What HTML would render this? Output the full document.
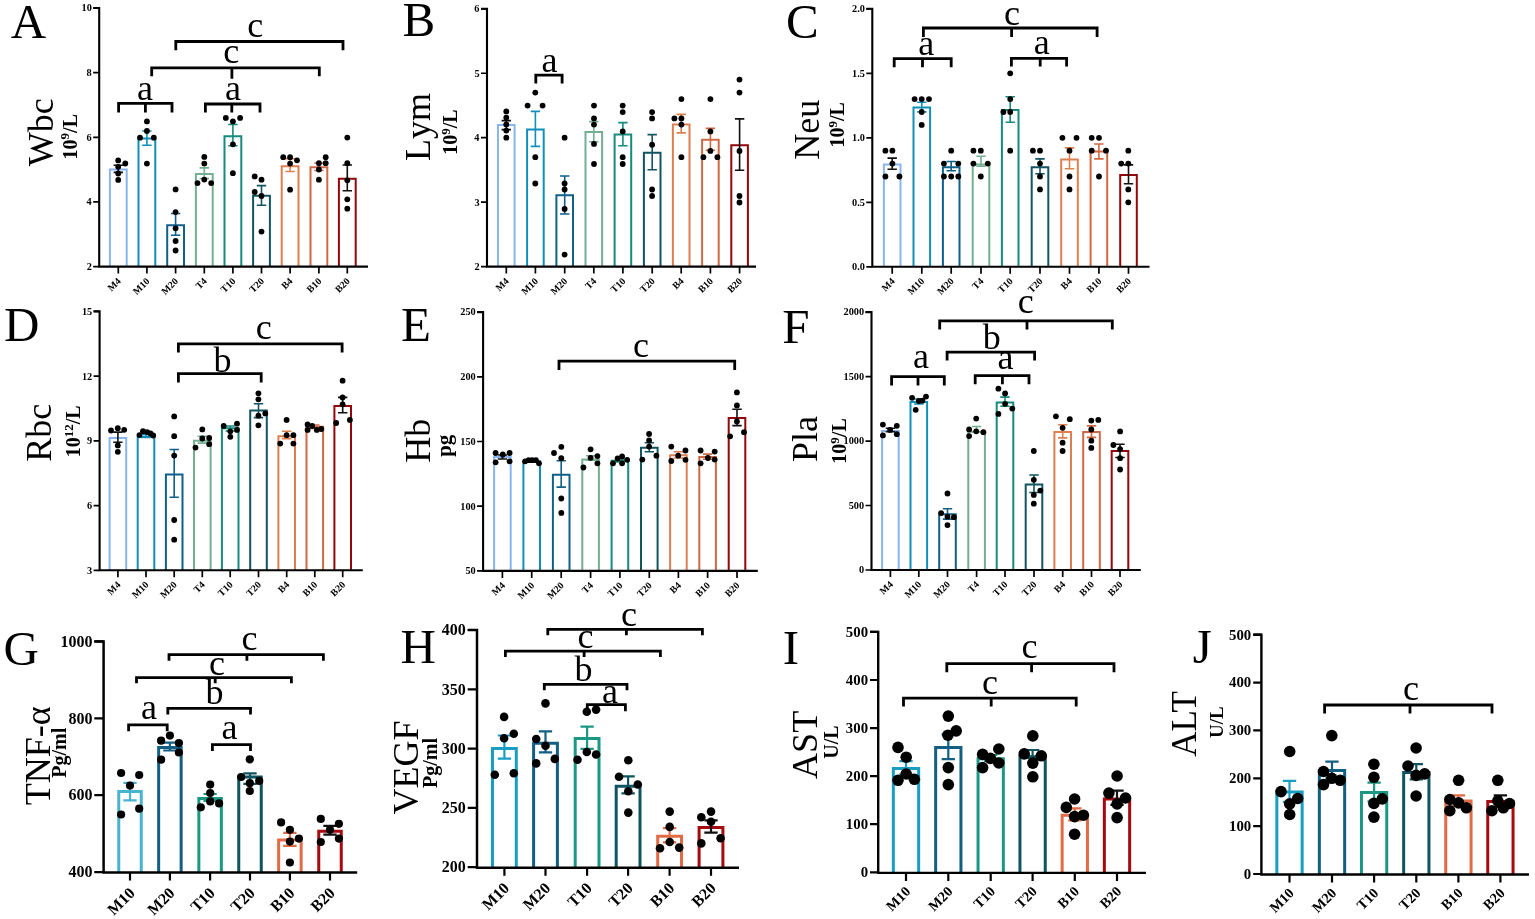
<!DOCTYPE html>
<html><head><meta charset="utf-8"><title>Figure</title>
<style>
html,body{margin:0;padding:0;background:#fff;width:1535px;height:919px;overflow:hidden}
svg{display:block;filter:blur(0.4px)}
text{font-family:"Liberation Serif","Times New Roman",serif;font-kerning:none;fill:#000}
</style></head><body>
<svg width="1535" height="919" viewBox="0 0 1535 919">
<rect width="1535" height="919" fill="#fff"/>
<path d="M109.9 266.6V169.6H126.7V266.6" fill="none" stroke="#88b5f0" stroke-width="2"/>
<path d="M118.3 165.2V172.4M113.6 165.2H123M113.6 172.4H123" stroke="#111" stroke-width="1.6" fill="none"/>
<circle cx="118.2" cy="160.4" r="2.9"/>
<circle cx="125.3" cy="163.5" r="2.9"/>
<circle cx="118.2" cy="166.8" r="2.9"/>
<circle cx="118.2" cy="173.5" r="2.9"/>
<circle cx="118.2" cy="179.9" r="2.9"/>
<path d="M138.5 266.6V138.5H155.3V266.6" fill="none" stroke="#1090b8" stroke-width="2"/>
<path d="M146.9 131V145.3M142.2 131H151.6M142.2 145.3H151.6" stroke="#1090b8" stroke-width="1.6" fill="none"/>
<circle cx="146.9" cy="121.4" r="2.9"/>
<circle cx="146.9" cy="131" r="2.9"/>
<circle cx="140" cy="137.7" r="2.9"/>
<circle cx="153.8" cy="137.7" r="2.9"/>
<circle cx="146.9" cy="163.6" r="2.9"/>
<path d="M167.2 266.6V225.3H184V266.6" fill="none" stroke="#10608a" stroke-width="2"/>
<path d="M175.6 213.5V235.2M170.9 213.5H180.3M170.9 235.2H180.3" stroke="#10608a" stroke-width="1.6" fill="none"/>
<circle cx="175.6" cy="189.4" r="2.9"/>
<circle cx="175.6" cy="212.1" r="2.9"/>
<circle cx="175.6" cy="228.3" r="2.9"/>
<circle cx="175.6" cy="241" r="2.9"/>
<circle cx="175.6" cy="250.5" r="2.9"/>
<path d="M195.9 266.6V174H212.7V266.6" fill="none" stroke="#74ae93" stroke-width="2"/>
<path d="M204.3 167.9V178.5M199.6 167.9H209M199.6 178.5H209" stroke="#74ae93" stroke-width="1.6" fill="none"/>
<circle cx="204.3" cy="156.9" r="2.9"/>
<circle cx="204.3" cy="163.6" r="2.9"/>
<circle cx="204.3" cy="179.6" r="2.9"/>
<circle cx="197.5" cy="183.1" r="2.9"/>
<circle cx="211.2" cy="183.1" r="2.9"/>
<path d="M224.5 266.6V136.2H241.3V266.6" fill="none" stroke="#178b7d" stroke-width="2"/>
<path d="M232.9 124.5V145.7M228.2 124.5H237.6M228.2 145.7H237.6" stroke="#178b7d" stroke-width="1.6" fill="none"/>
<circle cx="225.8" cy="117.9" r="2.9"/>
<circle cx="232.9" cy="121.4" r="2.9"/>
<circle cx="240.1" cy="117.9" r="2.9"/>
<circle cx="232.9" cy="144.3" r="2.9"/>
<circle cx="232.9" cy="173.2" r="2.9"/>
<path d="M253.1 266.6V195.7H269.9V266.6" fill="none" stroke="#115561" stroke-width="2"/>
<path d="M261.5 185.6V205.2M256.8 185.6H266.2M256.8 205.2H266.2" stroke="#115561" stroke-width="1.6" fill="none"/>
<circle cx="254.7" cy="176.4" r="2.9"/>
<circle cx="261.5" cy="179.7" r="2.9"/>
<circle cx="254.7" cy="192" r="2.9"/>
<circle cx="261.5" cy="196" r="2.9"/>
<circle cx="261.5" cy="231.6" r="2.9"/>
<path d="M281.7 266.6V166.2H298.5V266.6" fill="none" stroke="#de7f50" stroke-width="2"/>
<path d="M290.1 158.7V171.5M285.4 158.7H294.8M285.4 171.5H294.8" stroke="#de7f50" stroke-width="1.6" fill="none"/>
<circle cx="283.2" cy="157.2" r="2.9"/>
<circle cx="290.1" cy="157.2" r="2.9"/>
<circle cx="297" cy="160.3" r="2.9"/>
<circle cx="290.1" cy="163.6" r="2.9"/>
<circle cx="290.1" cy="189.7" r="2.9"/>
<path d="M310.5 266.6V167.2H327.3V266.6" fill="none" stroke="#d06943" stroke-width="2"/>
<path d="M318.9 163V170.5M314.2 163H323.6M314.2 170.5H323.6" stroke="#d06943" stroke-width="1.6" fill="none"/>
<circle cx="325.7" cy="157.2" r="2.9"/>
<circle cx="318.9" cy="163.2" r="2.9"/>
<circle cx="325.7" cy="163.2" r="2.9"/>
<circle cx="318.9" cy="169.5" r="2.9"/>
<circle cx="318.9" cy="179.7" r="2.9"/>
<path d="M338.9 266.6V178.7H355.7V266.6" fill="none" stroke="#930609" stroke-width="2"/>
<path d="M347.3 165V190.7M342.6 165H352M342.6 190.7H352" stroke="#111" stroke-width="1.6" fill="none"/>
<circle cx="347.3" cy="137.6" r="2.9"/>
<circle cx="347.3" cy="163.2" r="2.9"/>
<circle cx="347.3" cy="180.3" r="2.9"/>
<circle cx="347.3" cy="199.3" r="2.9"/>
<circle cx="347.3" cy="208.7" r="2.9"/>
<path d="M93.2 8H99.2V266.6H368" fill="none" stroke="#000" stroke-width="2.1"/>
<path d="M93.2 266.6H99.2M93.2 201.95H99.2M93.2 137.3H99.2M93.2 72.65H99.2M93.2 8H99.2M118.3 266.6V273.6M146.9 266.6V273.6M175.6 266.6V273.6M204.3 266.6V273.6M232.9 266.6V273.6M261.5 266.6V273.6M290.1 266.6V273.6M318.9 266.6V273.6M347.3 266.6V273.6" stroke="#000" stroke-width="1.7" fill="none"/>
<text x="86.69" y="270.01" font-size="10.3" font-weight="bold">2</text>
<text x="86.44" y="205.34" font-size="10.3" font-weight="bold">4</text>
<text x="86.55" y="140.66" font-size="10.3" font-weight="bold">6</text>
<text x="86.59" y="76.02" font-size="10.3" font-weight="bold">8</text>
<text x="81.49" y="11.37" font-size="10.3" font-weight="bold">10</text>
<text transform="translate(121.5,281.7) rotate(-45)" font-size="9.8" font-weight="bold" text-anchor="end">M4</text>
<text transform="translate(150.1,281.7) rotate(-45)" font-size="9.8" font-weight="bold" text-anchor="end">M10</text>
<text transform="translate(178.8,281.7) rotate(-45)" font-size="9.8" font-weight="bold" text-anchor="end">M20</text>
<text transform="translate(207.5,281.7) rotate(-45)" font-size="9.8" font-weight="bold" text-anchor="end">T4</text>
<text transform="translate(236.1,281.7) rotate(-45)" font-size="9.8" font-weight="bold" text-anchor="end">T10</text>
<text transform="translate(264.7,281.7) rotate(-45)" font-size="9.8" font-weight="bold" text-anchor="end">T20</text>
<text transform="translate(293.3,281.7) rotate(-45)" font-size="9.8" font-weight="bold" text-anchor="end">B4</text>
<text transform="translate(322.1,281.7) rotate(-45)" font-size="9.8" font-weight="bold" text-anchor="end">B10</text>
<text transform="translate(350.5,281.7) rotate(-45)" font-size="9.8" font-weight="bold" text-anchor="end">B20</text>
<path d="M118.6 112.6V103.3H172V112.6M145.4 103.3V112.6" fill="none" stroke="#000" stroke-width="2.8"/>
<text x="137.12" y="99.6" font-size="36">a</text>
<path d="M205.4 112.6V104H260V112.6M231.8 104V112.6" fill="none" stroke="#000" stroke-width="2.8"/>
<text x="225.12" y="99.8" font-size="36">a</text>
<path d="M151.7 76.2V67.8H319.3V76.2M231.9 67.8V78.8" fill="none" stroke="#000" stroke-width="2.8"/>
<text x="223.28" y="63.4" font-size="36">c</text>
<path d="M175.8 50.3V41.5H343V50.3" fill="none" stroke="#000" stroke-width="2.8"/>
<text x="247.18" y="37" font-size="36">c</text>
<text x="10.82" y="37.5" font-size="49">A</text>
<text transform="translate(53.3,166.34) rotate(-90)" font-size="36">Wbc</text>
<text transform="translate(76.6,159.38) rotate(-90)" font-size="20" font-weight="bold">10<tspan font-size="13" dy="-7.2">9</tspan><tspan dy="7.2">/L</tspan></text>
<path d="M498 266.6V125.1H514.6V266.6" fill="none" stroke="#88b5f0" stroke-width="2"/>
<path d="M506.3 120.6V129.6M501.6 120.6H511M501.6 129.6H511" stroke="#111" stroke-width="1.6" fill="none"/>
<circle cx="506.3" cy="111.4" r="2.9"/>
<circle cx="506.3" cy="117.6" r="2.9"/>
<circle cx="506.3" cy="124.4" r="2.9"/>
<circle cx="506.3" cy="130.6" r="2.9"/>
<circle cx="506.3" cy="137.7" r="2.9"/>
<path d="M527.1 266.6V129.4H543.7V266.6" fill="none" stroke="#1090b8" stroke-width="2"/>
<path d="M535.4 111.4V146.4M530.7 111.4H540.1M530.7 146.4H540.1" stroke="#1090b8" stroke-width="1.6" fill="none"/>
<circle cx="535.3" cy="92.6" r="2.9"/>
<circle cx="527.6" cy="105.6" r="2.9"/>
<circle cx="542.6" cy="105.6" r="2.9"/>
<circle cx="535.3" cy="157.2" r="2.9"/>
<circle cx="535.3" cy="183.5" r="2.9"/>
<path d="M556.4 266.6V195.3H573V266.6" fill="none" stroke="#10608a" stroke-width="2"/>
<path d="M564.7 176V214M560 176H569.4M560 214H569.4" stroke="#10608a" stroke-width="1.6" fill="none"/>
<circle cx="564.6" cy="137.7" r="2.9"/>
<circle cx="564.6" cy="183.5" r="2.9"/>
<circle cx="564.6" cy="189.5" r="2.9"/>
<circle cx="564.6" cy="209" r="2.9"/>
<circle cx="564.6" cy="254.6" r="2.9"/>
<path d="M585.5 266.6V132.1H602.1V266.6" fill="none" stroke="#74ae93" stroke-width="2"/>
<path d="M593.8 121.6V141.7M589.1 121.6H598.5M589.1 141.7H598.5" stroke="#74ae93" stroke-width="1.6" fill="none"/>
<circle cx="594" cy="105.6" r="2.9"/>
<circle cx="594" cy="118.4" r="2.9"/>
<circle cx="594" cy="124.6" r="2.9"/>
<circle cx="594" cy="143.9" r="2.9"/>
<circle cx="594" cy="164" r="2.9"/>
<path d="M614.6 266.6V134.6H631.2V266.6" fill="none" stroke="#178b7d" stroke-width="2"/>
<path d="M622.9 122.6V145.7M618.2 122.6H627.6M618.2 145.7H627.6" stroke="#178b7d" stroke-width="1.6" fill="none"/>
<circle cx="622.7" cy="105.6" r="2.9"/>
<circle cx="622.7" cy="112.1" r="2.9"/>
<circle cx="622.7" cy="131.4" r="2.9"/>
<circle cx="622.7" cy="157.2" r="2.9"/>
<circle cx="622.7" cy="164" r="2.9"/>
<path d="M643.9 266.6V152.7H660.5V266.6" fill="none" stroke="#115561" stroke-width="2"/>
<path d="M652.2 134.6V169.7M647.5 134.6H656.9M647.5 169.7H656.9" stroke="#115561" stroke-width="1.6" fill="none"/>
<circle cx="652.1" cy="112.1" r="2.9"/>
<circle cx="652.1" cy="118.4" r="2.9"/>
<circle cx="652.1" cy="144.7" r="2.9"/>
<circle cx="652.1" cy="189.5" r="2.9"/>
<circle cx="652.1" cy="196" r="2.9"/>
<path d="M672.9 266.6V124.4H689.5V266.6" fill="none" stroke="#de7f50" stroke-width="2"/>
<path d="M681.2 114.4V132.9M676.5 114.4H685.9M676.5 132.9H685.9" stroke="#de7f50" stroke-width="1.6" fill="none"/>
<circle cx="681.4" cy="99.1" r="2.9"/>
<circle cx="674.4" cy="118.4" r="2.9"/>
<circle cx="681.4" cy="118.4" r="2.9"/>
<circle cx="681.4" cy="124.6" r="2.9"/>
<circle cx="681.4" cy="157.2" r="2.9"/>
<path d="M702.1 266.6V139.7H718.7V266.6" fill="none" stroke="#d06943" stroke-width="2"/>
<path d="M710.4 128.4V150.2M705.7 128.4H715.1M705.7 150.2H715.1" stroke="#d06943" stroke-width="1.6" fill="none"/>
<circle cx="710.4" cy="99.1" r="2.9"/>
<circle cx="710.4" cy="131.4" r="2.9"/>
<circle cx="710.4" cy="150.9" r="2.9"/>
<circle cx="703.4" cy="157.2" r="2.9"/>
<circle cx="717.4" cy="157.2" r="2.9"/>
<path d="M731.3 266.6V145.2H747.9V266.6" fill="none" stroke="#930609" stroke-width="2"/>
<path d="M739.6 118.9V170.2M734.9 118.9H744.3M734.9 170.2H744.3" stroke="#111" stroke-width="1.6" fill="none"/>
<circle cx="739.5" cy="79.6" r="2.9"/>
<circle cx="739.5" cy="92.6" r="2.9"/>
<circle cx="739.5" cy="150.9" r="2.9"/>
<circle cx="739.5" cy="196" r="2.9"/>
<circle cx="739.5" cy="202.5" r="2.9"/>
<path d="M481 8.8H487V266.6H756" fill="none" stroke="#000" stroke-width="2.1"/>
<path d="M481 266.6H487M481 202.15H487M481 137.7H487M481 73.25H487M481 8.8H487M506.3 266.6V273.6M535.4 266.6V273.6M564.7 266.6V273.6M593.8 266.6V273.6M622.9 266.6V273.6M652.2 266.6V273.6M681.2 266.6V273.6M710.4 266.6V273.6M739.6 266.6V273.6" stroke="#000" stroke-width="1.7" fill="none"/>
<text x="474.49" y="270.01" font-size="10.3" font-weight="bold">2</text>
<text x="474.4" y="205.51" font-size="10.3" font-weight="bold">3</text>
<text x="474.24" y="141.09" font-size="10.3" font-weight="bold">4</text>
<text x="474.43" y="76.57" font-size="10.3" font-weight="bold">5</text>
<text x="474.35" y="12.16" font-size="10.3" font-weight="bold">6</text>
<text transform="translate(509.5,281.7) rotate(-45)" font-size="9.8" font-weight="bold" text-anchor="end">M4</text>
<text transform="translate(538.6,281.7) rotate(-45)" font-size="9.8" font-weight="bold" text-anchor="end">M10</text>
<text transform="translate(567.9,281.7) rotate(-45)" font-size="9.8" font-weight="bold" text-anchor="end">M20</text>
<text transform="translate(597,281.7) rotate(-45)" font-size="9.8" font-weight="bold" text-anchor="end">T4</text>
<text transform="translate(626.1,281.7) rotate(-45)" font-size="9.8" font-weight="bold" text-anchor="end">T10</text>
<text transform="translate(655.4,281.7) rotate(-45)" font-size="9.8" font-weight="bold" text-anchor="end">T20</text>
<text transform="translate(684.4,281.7) rotate(-45)" font-size="9.8" font-weight="bold" text-anchor="end">B4</text>
<text transform="translate(713.6,281.7) rotate(-45)" font-size="9.8" font-weight="bold" text-anchor="end">B10</text>
<text transform="translate(742.8,281.7) rotate(-45)" font-size="9.8" font-weight="bold" text-anchor="end">B20</text>
<path d="M535.8 83.5V75.1H562.1V83.5" fill="none" stroke="#000" stroke-width="2.8"/>
<text x="541.42" y="71.7" font-size="36">a</text>
<text x="402.59" y="36.1" font-size="49">B</text>
<text transform="translate(430.4,161.03) rotate(-90)" font-size="36">Lym</text>
<text transform="translate(457,154.78) rotate(-90)" font-size="20" font-weight="bold">10<tspan font-size="13" dy="-7.2">9</tspan><tspan dy="7.2">/L</tspan></text>
<path d="M883.9 266.8V164.6H900.5V266.8" fill="none" stroke="#88b5f0" stroke-width="2"/>
<path d="M892.2 158.1V169.3M887.5 158.1H896.9M887.5 169.3H896.9" stroke="#111" stroke-width="1.6" fill="none"/>
<circle cx="885.4" cy="150.7" r="2.9"/>
<circle cx="892.4" cy="150.7" r="2.9"/>
<circle cx="892.4" cy="163.6" r="2.9"/>
<circle cx="885.4" cy="176.5" r="2.9"/>
<circle cx="899.4" cy="176.5" r="2.9"/>
<path d="M913.5 266.8V107.4H930.1V266.8" fill="none" stroke="#1090b8" stroke-width="2"/>
<path d="M921.8 102.2V111.9M917.1 102.2H926.5M917.1 111.9H926.5" stroke="#1090b8" stroke-width="1.6" fill="none"/>
<circle cx="914.6" cy="99.1" r="2.9"/>
<circle cx="921.7" cy="99.1" r="2.9"/>
<circle cx="929" cy="99.1" r="2.9"/>
<circle cx="921.7" cy="112" r="2.9"/>
<circle cx="921.7" cy="124.9" r="2.9"/>
<path d="M942.9 266.8V167.3H959.5V266.8" fill="none" stroke="#10608a" stroke-width="2"/>
<path d="M951.2 161.5V170.7M946.5 161.5H955.9M946.5 170.7H955.9" stroke="#10608a" stroke-width="1.6" fill="none"/>
<circle cx="951.2" cy="150.7" r="2.9"/>
<circle cx="943.9" cy="163.6" r="2.9"/>
<circle cx="958.3" cy="163.6" r="2.9"/>
<circle cx="943.9" cy="176.5" r="2.9"/>
<circle cx="951.2" cy="176.5" r="2.9"/>
<circle cx="958.3" cy="176.5" r="2.9"/>
<path d="M972.7 266.8V164.6H989.3V266.8" fill="none" stroke="#74ae93" stroke-width="2"/>
<path d="M981 156.3V166.2M976.3 156.3H985.7M976.3 166.2H985.7" stroke="#74ae93" stroke-width="1.6" fill="none"/>
<circle cx="973.4" cy="150.7" r="2.9"/>
<circle cx="980.8" cy="150.7" r="2.9"/>
<circle cx="973.4" cy="163.6" r="2.9"/>
<circle cx="987.8" cy="163.6" r="2.9"/>
<circle cx="980.8" cy="176.5" r="2.9"/>
<path d="M1001.9 266.8V110H1018.5V266.8" fill="none" stroke="#178b7d" stroke-width="2"/>
<path d="M1010.2 96.7V122.3M1005.5 96.7H1014.9M1005.5 122.3H1014.9" stroke="#178b7d" stroke-width="1.6" fill="none"/>
<circle cx="1010.2" cy="73.3" r="2.9"/>
<circle cx="1010.2" cy="99.1" r="2.9"/>
<circle cx="1003.4" cy="112" r="2.9"/>
<circle cx="1010.2" cy="112" r="2.9"/>
<circle cx="1010.2" cy="150.7" r="2.9"/>
<path d="M1031.7 266.8V167.3H1048.3V266.8" fill="none" stroke="#115561" stroke-width="2"/>
<path d="M1040 158.9V173.8M1035.3 158.9H1044.7M1035.3 173.8H1044.7" stroke="#115561" stroke-width="1.6" fill="none"/>
<circle cx="1032.9" cy="150.7" r="2.9"/>
<circle cx="1040" cy="150.7" r="2.9"/>
<circle cx="1040" cy="163.6" r="2.9"/>
<circle cx="1040" cy="176.5" r="2.9"/>
<circle cx="1040" cy="189.4" r="2.9"/>
<path d="M1061.2 266.8V159.4H1077.8V266.8" fill="none" stroke="#de7f50" stroke-width="2"/>
<path d="M1069.5 147.9V168.8M1064.8 147.9H1074.2M1064.8 168.8H1074.2" stroke="#de7f50" stroke-width="1.6" fill="none"/>
<circle cx="1062.4" cy="137.8" r="2.9"/>
<circle cx="1076.5" cy="137.8" r="2.9"/>
<circle cx="1069.5" cy="150.7" r="2.9"/>
<circle cx="1069.5" cy="176.5" r="2.9"/>
<circle cx="1069.5" cy="189.4" r="2.9"/>
<path d="M1090.6 266.8V151.6H1107.2V266.8" fill="none" stroke="#d06943" stroke-width="2"/>
<path d="M1098.9 144V158.9M1094.2 144H1103.6M1094.2 158.9H1103.6" stroke="#d06943" stroke-width="1.6" fill="none"/>
<circle cx="1091.7" cy="137.8" r="2.9"/>
<circle cx="1099" cy="137.8" r="2.9"/>
<circle cx="1091.7" cy="150.7" r="2.9"/>
<circle cx="1106" cy="150.7" r="2.9"/>
<circle cx="1099" cy="176.5" r="2.9"/>
<path d="M1120.2 266.8V175.1H1136.8V266.8" fill="none" stroke="#930609" stroke-width="2"/>
<path d="M1128.5 164.9V183.7M1123.8 164.9H1133.2M1123.8 183.7H1133.2" stroke="#111" stroke-width="1.6" fill="none"/>
<circle cx="1128.3" cy="150.7" r="2.9"/>
<circle cx="1121.2" cy="163.6" r="2.9"/>
<circle cx="1128.3" cy="163.6" r="2.9"/>
<circle cx="1128.3" cy="189.4" r="2.9"/>
<circle cx="1128.3" cy="202.3" r="2.9"/>
<path d="M866.3 8.8H872.3V266.8H1149.5" fill="none" stroke="#000" stroke-width="2.1"/>
<path d="M866.3 266.8H872.3M866.3 202.3H872.3M866.3 137.8H872.3M866.3 73.3H872.3M866.3 8.8H872.3M892.2 266.8V273.8M921.8 266.8V273.8M951.2 266.8V273.8M981 266.8V273.8M1010.2 266.8V273.8M1040 266.8V273.8M1069.5 266.8V273.8M1098.9 266.8V273.8M1128.5 266.8V273.8" stroke="#000" stroke-width="1.7" fill="none"/>
<text x="852.02" y="270.15" font-size="10.3" font-weight="bold">0.0</text>
<text x="852" y="205.65" font-size="10.3" font-weight="bold">0.5</text>
<text x="852.02" y="141.15" font-size="10.3" font-weight="bold">1.0</text>
<text x="852" y="76.63" font-size="10.3" font-weight="bold">1.5</text>
<text x="852.02" y="12.15" font-size="10.3" font-weight="bold">2.0</text>
<text transform="translate(895.4,281.9) rotate(-45)" font-size="9.8" font-weight="bold" text-anchor="end">M4</text>
<text transform="translate(925,281.9) rotate(-45)" font-size="9.8" font-weight="bold" text-anchor="end">M10</text>
<text transform="translate(954.4,281.9) rotate(-45)" font-size="9.8" font-weight="bold" text-anchor="end">M20</text>
<text transform="translate(984.2,281.9) rotate(-45)" font-size="9.8" font-weight="bold" text-anchor="end">T4</text>
<text transform="translate(1013.4,281.9) rotate(-45)" font-size="9.8" font-weight="bold" text-anchor="end">T10</text>
<text transform="translate(1043.2,281.9) rotate(-45)" font-size="9.8" font-weight="bold" text-anchor="end">T20</text>
<text transform="translate(1072.7,281.9) rotate(-45)" font-size="9.8" font-weight="bold" text-anchor="end">B4</text>
<text transform="translate(1102.1,281.9) rotate(-45)" font-size="9.8" font-weight="bold" text-anchor="end">B10</text>
<text transform="translate(1131.7,281.9) rotate(-45)" font-size="9.8" font-weight="bold" text-anchor="end">B20</text>
<path d="M894.2 67.2V58.6H951.2V67.2M922.5 58.6V67.2" fill="none" stroke="#000" stroke-width="2.8"/>
<text x="918.22" y="55" font-size="36">a</text>
<path d="M923.4 37V28H1097.1V37M1011.6 28V37" fill="none" stroke="#000" stroke-width="2.8"/>
<text x="1004.08" y="25" font-size="36">c</text>
<path d="M1011.4 66.5V58.3H1066.6V66.5M1040.2 58.3V66.5" fill="none" stroke="#000" stroke-width="2.8"/>
<text x="1033.82" y="54.3" font-size="36">a</text>
<text x="785.89" y="37.9" font-size="49">C</text>
<text transform="translate(819.2,159.7) rotate(-90)" font-size="36">Neu</text>
<text transform="translate(844.2,147.48) rotate(-90)" font-size="20" font-weight="bold">10<tspan font-size="13" dy="-7.2">9</tspan><tspan dy="7.2">/L</tspan></text>
<path d="M109.6 570.3V438H126.2V570.3" fill="none" stroke="#88b5f0" stroke-width="2"/>
<path d="M117.9 432.1V442.2M113.2 432.1H122.6M113.2 442.2H122.6" stroke="#111" stroke-width="1.6" fill="none"/>
<circle cx="111" cy="430.5" r="2.9"/>
<circle cx="117.8" cy="428.2" r="2.9"/>
<circle cx="124.2" cy="429.8" r="2.9"/>
<circle cx="117.8" cy="445.4" r="2.9"/>
<circle cx="117.8" cy="451.8" r="2.9"/>
<path d="M137.7 570.3V436.7H154.3V570.3" fill="none" stroke="#1090b8" stroke-width="2"/>
<path d="M146 434.5V437.5M141.3 434.5H150.7M141.3 437.5H150.7" stroke="#1090b8" stroke-width="1.6" fill="none"/>
<circle cx="139.5" cy="435.1" r="2.9"/>
<circle cx="143" cy="431.2" r="2.9"/>
<circle cx="147.1" cy="432.1" r="2.9"/>
<circle cx="150.5" cy="433.5" r="2.9"/>
<circle cx="153.2" cy="435.5" r="2.9"/>
<path d="M165.9 570.3V474.4H182.5V570.3" fill="none" stroke="#10608a" stroke-width="2"/>
<path d="M174.2 449.5V497.2M169.5 449.5H178.9M169.5 497.2H178.9" stroke="#10608a" stroke-width="1.6" fill="none"/>
<circle cx="174.2" cy="416.4" r="2.9"/>
<circle cx="174.2" cy="436.2" r="2.9"/>
<circle cx="174.2" cy="455.6" r="2.9"/>
<circle cx="174.2" cy="520" r="2.9"/>
<circle cx="174.2" cy="539.7" r="2.9"/>
<path d="M194 570.3V440.8H210.6V570.3" fill="none" stroke="#74ae93" stroke-width="2"/>
<path d="M202.3 436.2V443.1M197.6 436.2H207M197.6 443.1H207" stroke="#74ae93" stroke-width="1.6" fill="none"/>
<circle cx="202.3" cy="429.4" r="2.9"/>
<circle cx="195.5" cy="447.6" r="2.9"/>
<circle cx="202.3" cy="438.5" r="2.9"/>
<circle cx="209.2" cy="438" r="2.9"/>
<circle cx="209.2" cy="444.2" r="2.9"/>
<path d="M221.9 570.3V428.3H238.5V570.3" fill="none" stroke="#178b7d" stroke-width="2"/>
<path d="M230.2 426V431M225.5 426H234.9M225.5 431H234.9" stroke="#178b7d" stroke-width="1.6" fill="none"/>
<circle cx="223.7" cy="426" r="2.9"/>
<circle cx="230.3" cy="431.3" r="2.9"/>
<circle cx="237" cy="423.7" r="2.9"/>
<circle cx="237" cy="429.9" r="2.9"/>
<circle cx="230.3" cy="436.8" r="2.9"/>
<path d="M250.2 570.3V410.5H266.8V570.3" fill="none" stroke="#115561" stroke-width="2"/>
<path d="M258.5 403.8V417.6M253.8 403.8H263.2M253.8 417.6H263.2" stroke="#115561" stroke-width="1.6" fill="none"/>
<circle cx="258.4" cy="393.3" r="2.9"/>
<circle cx="258.4" cy="399.3" r="2.9"/>
<circle cx="258.4" cy="415.7" r="2.9"/>
<circle cx="265.3" cy="413.4" r="2.9"/>
<circle cx="258.4" cy="425.3" r="2.9"/>
<path d="M278.4 570.3V436.3H295V570.3" fill="none" stroke="#de7f50" stroke-width="2"/>
<path d="M286.7 431.3V438.6M282 431.3H291.4M282 438.6H291.4" stroke="#de7f50" stroke-width="1.6" fill="none"/>
<circle cx="286.6" cy="419.9" r="2.9"/>
<circle cx="286.6" cy="435.2" r="2.9"/>
<circle cx="293.4" cy="435.2" r="2.9"/>
<circle cx="280.2" cy="443.6" r="2.9"/>
<circle cx="293.4" cy="443.6" r="2.9"/>
<path d="M306.5 570.3V426.7H323.1V570.3" fill="none" stroke="#d06943" stroke-width="2"/>
<path d="M314.8 425V428.5M310.1 425H319.5M310.1 428.5H319.5" stroke="#d06943" stroke-width="1.6" fill="none"/>
<circle cx="307.6" cy="424.4" r="2.9"/>
<circle cx="312.2" cy="426" r="2.9"/>
<circle cx="307.6" cy="429.9" r="2.9"/>
<circle cx="316.8" cy="429.9" r="2.9"/>
<circle cx="321.3" cy="429" r="2.9"/>
<path d="M334.4 570.3V405.9H351V570.3" fill="none" stroke="#930609" stroke-width="2"/>
<path d="M342.7 397.4V412.8M338 397.4H347.4M338 412.8H347.4" stroke="#111" stroke-width="1.6" fill="none"/>
<circle cx="342.6" cy="380.7" r="2.9"/>
<circle cx="342.6" cy="397.4" r="2.9"/>
<circle cx="342.6" cy="404.3" r="2.9"/>
<circle cx="336.2" cy="423" r="2.9"/>
<circle cx="349.9" cy="419.9" r="2.9"/>
<path d="M93.6 311.4H99.6V570.3H362.8" fill="none" stroke="#000" stroke-width="2.1"/>
<path d="M93.6 570.3H99.6M93.6 505.57H99.6M93.6 440.85H99.6M93.6 376.12H99.6M93.6 311.4H99.6M117.9 570.3V577.3M146 570.3V577.3M174.2 570.3V577.3M202.3 570.3V577.3M230.2 570.3V577.3M258.5 570.3V577.3M286.7 570.3V577.3M314.8 570.3V577.3M342.7 570.3V577.3" stroke="#000" stroke-width="1.7" fill="none"/>
<text x="87" y="573.66" font-size="10.3" font-weight="bold">3</text>
<text x="86.95" y="508.93" font-size="10.3" font-weight="bold">6</text>
<text x="87.02" y="444.21" font-size="10.3" font-weight="bold">9</text>
<text x="81.94" y="379.53" font-size="10.3" font-weight="bold">12</text>
<text x="81.88" y="314.75" font-size="10.3" font-weight="bold">15</text>
<text transform="translate(121.1,585.4) rotate(-45)" font-size="9.8" font-weight="bold" text-anchor="end">M4</text>
<text transform="translate(149.2,585.4) rotate(-45)" font-size="9.8" font-weight="bold" text-anchor="end">M10</text>
<text transform="translate(177.4,585.4) rotate(-45)" font-size="9.8" font-weight="bold" text-anchor="end">M20</text>
<text transform="translate(205.5,585.4) rotate(-45)" font-size="9.8" font-weight="bold" text-anchor="end">T4</text>
<text transform="translate(233.4,585.4) rotate(-45)" font-size="9.8" font-weight="bold" text-anchor="end">T10</text>
<text transform="translate(261.7,585.4) rotate(-45)" font-size="9.8" font-weight="bold" text-anchor="end">T20</text>
<text transform="translate(289.9,585.4) rotate(-45)" font-size="9.8" font-weight="bold" text-anchor="end">B4</text>
<text transform="translate(318,585.4) rotate(-45)" font-size="9.8" font-weight="bold" text-anchor="end">B10</text>
<text transform="translate(345.9,585.4) rotate(-45)" font-size="9.8" font-weight="bold" text-anchor="end">B20</text>
<path d="M178.4 352.5V343.9H342.1V352.5" fill="none" stroke="#000" stroke-width="2.8"/>
<text x="255.68" y="339.2" font-size="36">c</text>
<path d="M178.4 382.4V373.7H261.2V382.4" fill="none" stroke="#000" stroke-width="2.8"/>
<text x="213.59" y="372.1" font-size="36">b</text>
<text x="3.89" y="340.5" font-size="49">D</text>
<text transform="translate(51,461.66) rotate(-90)" font-size="36">Rbc</text>
<text transform="translate(79.9,457.33) rotate(-90)" font-size="20" font-weight="bold">10<tspan font-size="13" dy="-7.2">12</tspan><tspan dy="7.2">/L</tspan></text>
<path d="M494.1 570.9V457.1H510.7V570.9" fill="none" stroke="#88b5f0" stroke-width="2"/>
<path d="M502.4 455V459M497.7 455H507.1M497.7 459H507.1" stroke="#111" stroke-width="1.6" fill="none"/>
<circle cx="495.6" cy="453" r="2.9"/>
<circle cx="502.8" cy="454.5" r="2.9"/>
<circle cx="509.6" cy="453" r="2.9"/>
<circle cx="495.6" cy="462.3" r="2.9"/>
<circle cx="509.6" cy="461.3" r="2.9"/>
<path d="M523.4 570.9V461.3H540V570.9" fill="none" stroke="#1090b8" stroke-width="2"/>
<path d="M531.7 460V462M527 460H536.4M527 462H536.4" stroke="#1090b8" stroke-width="1.6" fill="none"/>
<circle cx="525.1" cy="461.3" r="2.9"/>
<circle cx="528.6" cy="460.2" r="2.9"/>
<circle cx="532.1" cy="460.2" r="2.9"/>
<circle cx="535.9" cy="460.2" r="2.9"/>
<circle cx="539" cy="463.3" r="2.9"/>
<path d="M552.9 570.9V474.7H569.5V570.9" fill="none" stroke="#10608a" stroke-width="2"/>
<path d="M561.2 460.7V487.1M556.5 460.7H565.9M556.5 487.1H565.9" stroke="#10608a" stroke-width="1.6" fill="none"/>
<circle cx="561.3" cy="446.8" r="2.9"/>
<circle cx="554" cy="453" r="2.9"/>
<circle cx="561.3" cy="458.2" r="2.9"/>
<circle cx="561.3" cy="498.5" r="2.9"/>
<circle cx="561.3" cy="512.9" r="2.9"/>
<path d="M582.3 570.9V459.6H598.9V570.9" fill="none" stroke="#74ae93" stroke-width="2"/>
<path d="M590.6 455.7V460.2M585.9 455.7H595.3M585.9 460.2H595.3" stroke="#74ae93" stroke-width="1.6" fill="none"/>
<circle cx="590.6" cy="449.3" r="2.9"/>
<circle cx="590.6" cy="457.8" r="2.9"/>
<circle cx="597.4" cy="456.1" r="2.9"/>
<circle cx="597.4" cy="463.3" r="2.9"/>
<circle cx="583.4" cy="467.5" r="2.9"/>
<path d="M611.6 570.9V460.8H628.2V570.9" fill="none" stroke="#178b7d" stroke-width="2"/>
<path d="M619.9 459V462M615.2 459H624.6M615.2 462H624.6" stroke="#178b7d" stroke-width="1.6" fill="none"/>
<circle cx="613" cy="463.3" r="2.9"/>
<circle cx="617.6" cy="458.5" r="2.9"/>
<circle cx="622.1" cy="456.4" r="2.9"/>
<circle cx="622.1" cy="463.3" r="2.9"/>
<circle cx="627.2" cy="459.8" r="2.9"/>
<path d="M641 570.9V447.7H657.6V570.9" fill="none" stroke="#115561" stroke-width="2"/>
<path d="M649.3 442.7V451.8M644.6 442.7H654M644.6 451.8H654" stroke="#115561" stroke-width="1.6" fill="none"/>
<circle cx="649.1" cy="434" r="2.9"/>
<circle cx="649.1" cy="440.4" r="2.9"/>
<circle cx="649.1" cy="446.6" r="2.9"/>
<circle cx="642.3" cy="459.6" r="2.9"/>
<circle cx="656.4" cy="455.7" r="2.9"/>
<path d="M670.1 570.9V455.3H686.7V570.9" fill="none" stroke="#de7f50" stroke-width="2"/>
<path d="M678.4 451.8V458M673.7 451.8H683.1M673.7 458H683.1" stroke="#de7f50" stroke-width="1.6" fill="none"/>
<circle cx="671.3" cy="446.6" r="2.9"/>
<circle cx="685.5" cy="450.5" r="2.9"/>
<circle cx="678.2" cy="455.7" r="2.9"/>
<circle cx="671.3" cy="461" r="2.9"/>
<circle cx="685.5" cy="459.8" r="2.9"/>
<path d="M699.3 570.9V456.9H715.9V570.9" fill="none" stroke="#d06943" stroke-width="2"/>
<path d="M707.6 454.1V459.2M702.9 454.1H712.3M702.9 459.2H712.3" stroke="#d06943" stroke-width="1.6" fill="none"/>
<circle cx="700.6" cy="450.5" r="2.9"/>
<circle cx="714.7" cy="451.6" r="2.9"/>
<circle cx="707.9" cy="458" r="2.9"/>
<circle cx="700.6" cy="463.3" r="2.9"/>
<circle cx="714.7" cy="459.6" r="2.9"/>
<path d="M728.7 570.9V418H745.3V570.9" fill="none" stroke="#930609" stroke-width="2"/>
<path d="M737 409.3V425.6M732.3 409.3H741.7M732.3 425.6H741.7" stroke="#111" stroke-width="1.6" fill="none"/>
<circle cx="736.9" cy="392.4" r="2.9"/>
<circle cx="736.9" cy="405.4" r="2.9"/>
<circle cx="736.9" cy="421.4" r="2.9"/>
<circle cx="730.1" cy="436.3" r="2.9"/>
<circle cx="744" cy="432.2" r="2.9"/>
<path d="M477.1 312.1H483.1V570.9H757.8" fill="none" stroke="#000" stroke-width="2.1"/>
<path d="M477.1 570.9H483.1M477.1 506.2H483.1M477.1 441.5H483.1M477.1 376.8H483.1M477.1 312.1H483.1M502.4 570.9V577.9M531.7 570.9V577.9M561.2 570.9V577.9M590.6 570.9V577.9M619.9 570.9V577.9M649.3 570.9V577.9M678.4 570.9V577.9M707.6 570.9V577.9M737 570.9V577.9" stroke="#000" stroke-width="1.7" fill="none"/>
<text x="465.39" y="574.27" font-size="10.3" font-weight="bold">50</text>
<text x="460.24" y="509.57" font-size="10.3" font-weight="bold">100</text>
<text x="460.24" y="444.87" font-size="10.3" font-weight="bold">150</text>
<text x="460.24" y="380.17" font-size="10.3" font-weight="bold">200</text>
<text x="460.24" y="315.47" font-size="10.3" font-weight="bold">250</text>
<text transform="translate(505.6,586) rotate(-45)" font-size="9.8" font-weight="bold" text-anchor="end">M4</text>
<text transform="translate(534.9,586) rotate(-45)" font-size="9.8" font-weight="bold" text-anchor="end">M10</text>
<text transform="translate(564.4,586) rotate(-45)" font-size="9.8" font-weight="bold" text-anchor="end">M20</text>
<text transform="translate(593.8,586) rotate(-45)" font-size="9.8" font-weight="bold" text-anchor="end">T4</text>
<text transform="translate(623.1,586) rotate(-45)" font-size="9.8" font-weight="bold" text-anchor="end">T10</text>
<text transform="translate(652.5,586) rotate(-45)" font-size="9.8" font-weight="bold" text-anchor="end">T20</text>
<text transform="translate(681.6,586) rotate(-45)" font-size="9.8" font-weight="bold" text-anchor="end">B4</text>
<text transform="translate(710.8,586) rotate(-45)" font-size="9.8" font-weight="bold" text-anchor="end">B10</text>
<text transform="translate(740.2,586) rotate(-45)" font-size="9.8" font-weight="bold" text-anchor="end">B20</text>
<path d="M559 370V361.2H734.7V370" fill="none" stroke="#000" stroke-width="2.8"/>
<text x="633.08" y="356.5" font-size="36">c</text>
<text x="401.09" y="341.4" font-size="49">E</text>
<text transform="translate(429.9,462.83) rotate(-90)" font-size="36">Hb</text>
<text transform="translate(451.2,456.82) rotate(-90)" font-size="21" font-weight="bold">pg</text>
<path d="M882.1 570V431H898.7V570" fill="none" stroke="#88b5f0" stroke-width="2"/>
<path d="M890.4 428.2V431.8M885.7 428.2H895.1M885.7 431.8H895.1" stroke="#111" stroke-width="1.6" fill="none"/>
<circle cx="882.9" cy="424.6" r="2.9"/>
<circle cx="890.1" cy="429.9" r="2.9"/>
<circle cx="896.8" cy="425.8" r="2.9"/>
<circle cx="882.9" cy="435.4" r="2.9"/>
<circle cx="896.8" cy="434.2" r="2.9"/>
<path d="M910.5 570V401.9H927.1V570" fill="none" stroke="#1090b8" stroke-width="2"/>
<path d="M918.8 399V404M914.1 399H923.5M914.1 404H923.5" stroke="#1090b8" stroke-width="1.6" fill="none"/>
<circle cx="912.1" cy="397.8" r="2.9"/>
<circle cx="918.8" cy="401" r="2.9"/>
<circle cx="926" cy="396.6" r="2.9"/>
<circle cx="915.7" cy="409.8" r="2.9"/>
<circle cx="922.4" cy="400.7" r="2.9"/>
<path d="M939.2 570V514.3H955.8V570" fill="none" stroke="#10608a" stroke-width="2"/>
<path d="M947.5 508.8V519.1M942.8 508.8H952.2M942.8 519.1H952.2" stroke="#10608a" stroke-width="1.6" fill="none"/>
<circle cx="947.5" cy="493.5" r="2.9"/>
<circle cx="941.1" cy="513.1" r="2.9"/>
<circle cx="947.5" cy="516.7" r="2.9"/>
<circle cx="953.9" cy="517.2" r="2.9"/>
<circle cx="947.5" cy="525.1" r="2.9"/>
<path d="M968.3 570V431.8H984.9V570" fill="none" stroke="#74ae93" stroke-width="2"/>
<path d="M976.6 426.5V431.8M971.9 426.5H981.3M971.9 431.8H981.3" stroke="#74ae93" stroke-width="1.6" fill="none"/>
<circle cx="976.2" cy="418.6" r="2.9"/>
<circle cx="969.1" cy="429.4" r="2.9"/>
<circle cx="976.2" cy="431.3" r="2.9"/>
<circle cx="983.4" cy="432.2" r="2.9"/>
<circle cx="969.1" cy="436.1" r="2.9"/>
<path d="M996.7 570V402.6H1013.3V570" fill="none" stroke="#178b7d" stroke-width="2"/>
<path d="M1005 397.1V406.2M1000.3 397.1H1009.7M1000.3 406.2H1009.7" stroke="#178b7d" stroke-width="1.6" fill="none"/>
<circle cx="998.4" cy="388.7" r="2.9"/>
<circle cx="1005.1" cy="393.5" r="2.9"/>
<circle cx="1005.1" cy="403.8" r="2.9"/>
<circle cx="1012.3" cy="408.6" r="2.9"/>
<circle cx="998.4" cy="413.9" r="2.9"/>
<path d="M1025.7 570V484.6H1042.3V570" fill="none" stroke="#115561" stroke-width="2"/>
<path d="M1034 475V492.5M1029.3 475H1038.7M1029.3 492.5H1038.7" stroke="#115561" stroke-width="1.6" fill="none"/>
<circle cx="1033.8" cy="451" r="2.9"/>
<circle cx="1033.8" cy="479.8" r="2.9"/>
<circle cx="1040.3" cy="490.6" r="2.9"/>
<circle cx="1033.8" cy="494.9" r="2.9"/>
<circle cx="1033.8" cy="503.7" r="2.9"/>
<path d="M1054.4 570V431.9H1071V570" fill="none" stroke="#de7f50" stroke-width="2"/>
<path d="M1062.7 424.7V437.9M1058 424.7H1067.4M1058 437.9H1067.4" stroke="#de7f50" stroke-width="1.6" fill="none"/>
<circle cx="1055.9" cy="416.3" r="2.9"/>
<circle cx="1069.8" cy="419.2" r="2.9"/>
<circle cx="1062.6" cy="427.8" r="2.9"/>
<circle cx="1062.6" cy="442.7" r="2.9"/>
<circle cx="1062.6" cy="451" r="2.9"/>
<path d="M1083.2 570V431.9H1099.8V570" fill="none" stroke="#d06943" stroke-width="2"/>
<path d="M1091.5 425.9V437.4M1086.8 425.9H1096.2M1086.8 437.4H1096.2" stroke="#d06943" stroke-width="1.6" fill="none"/>
<circle cx="1091.3" cy="420.6" r="2.9"/>
<circle cx="1098.3" cy="419.9" r="2.9"/>
<circle cx="1091.3" cy="429.5" r="2.9"/>
<circle cx="1091.3" cy="440.7" r="2.9"/>
<circle cx="1091.3" cy="447.9" r="2.9"/>
<path d="M1111.7 570V451H1128.3V570" fill="none" stroke="#930609" stroke-width="2"/>
<path d="M1120 444.3V457.5M1115.3 444.3H1124.7M1115.3 457.5H1124.7" stroke="#111" stroke-width="1.6" fill="none"/>
<circle cx="1120.1" cy="431.4" r="2.9"/>
<circle cx="1113.4" cy="445" r="2.9"/>
<circle cx="1120.1" cy="449.1" r="2.9"/>
<circle cx="1120.1" cy="458.2" r="2.9"/>
<circle cx="1120.1" cy="469.5" r="2.9"/>
<path d="M865.5 312.1H871.5V570H1140.8" fill="none" stroke="#000" stroke-width="2.1"/>
<path d="M865.5 570H871.5M865.5 505.52H871.5M865.5 441.05H871.5M865.5 376.57H871.5M865.5 312.1H871.5M890.4 570V577M918.8 570V577M947.5 570V577M976.6 570V577M1005 570V577M1034 570V577M1062.7 570V577M1091.5 570V577M1120 570V577" stroke="#000" stroke-width="1.7" fill="none"/>
<text x="858.94" y="573.37" font-size="10.3" font-weight="bold">0</text>
<text x="848.64" y="508.9" font-size="10.3" font-weight="bold">500</text>
<text x="843.49" y="444.42" font-size="10.3" font-weight="bold">1000</text>
<text x="843.49" y="379.95" font-size="10.3" font-weight="bold">1500</text>
<text x="843.49" y="315.47" font-size="10.3" font-weight="bold">2000</text>
<text transform="translate(893.6,585.1) rotate(-45)" font-size="9.8" font-weight="bold" text-anchor="end">M4</text>
<text transform="translate(922,585.1) rotate(-45)" font-size="9.8" font-weight="bold" text-anchor="end">M10</text>
<text transform="translate(950.7,585.1) rotate(-45)" font-size="9.8" font-weight="bold" text-anchor="end">M20</text>
<text transform="translate(979.8,585.1) rotate(-45)" font-size="9.8" font-weight="bold" text-anchor="end">T4</text>
<text transform="translate(1008.2,585.1) rotate(-45)" font-size="9.8" font-weight="bold" text-anchor="end">T10</text>
<text transform="translate(1037.2,585.1) rotate(-45)" font-size="9.8" font-weight="bold" text-anchor="end">T20</text>
<text transform="translate(1065.9,585.1) rotate(-45)" font-size="9.8" font-weight="bold" text-anchor="end">B4</text>
<text transform="translate(1094.7,585.1) rotate(-45)" font-size="9.8" font-weight="bold" text-anchor="end">B10</text>
<text transform="translate(1123.2,585.1) rotate(-45)" font-size="9.8" font-weight="bold" text-anchor="end">B20</text>
<path d="M939.7 329.6V320.9H1112.3V329.6M1027 320.9V329.6" fill="none" stroke="#000" stroke-width="2.8"/>
<text x="1017.78" y="312.5" font-size="36">c</text>
<path d="M947.1 360.4V352.1H1034.6V360.4" fill="none" stroke="#000" stroke-width="2.8"/>
<text x="982.69" y="348.8" font-size="36">b</text>
<path d="M891.6 385.4V376.7H944.3V385.4M918 376.7V385.4" fill="none" stroke="#000" stroke-width="2.8"/>
<text x="912.92" y="367.8" font-size="36">a</text>
<path d="M975.2 384.3V375.6H1029V384.3M1002.4 375.6V384.3" fill="none" stroke="#000" stroke-width="2.8"/>
<text x="997.42" y="369.1" font-size="36">a</text>
<text x="782.29" y="342.6" font-size="49">F</text>
<text transform="translate(816.5,461.97) rotate(-90)" font-size="36">Pla</text>
<text transform="translate(846.4,463.68) rotate(-90)" font-size="20" font-weight="bold">10<tspan font-size="13" dy="-7.2">9</tspan><tspan dy="7.2">/L</tspan></text>
<path d="M118.75 872.6V791.6H141.25V872.6" fill="none" stroke="#48b4d0" stroke-width="3"/>
<path d="M130 782.8V800.3M123.35 782.8H136.65M123.35 800.3H136.65" stroke="#48b4d0" stroke-width="2.2" fill="none"/>
<circle cx="121.1" cy="773" r="4.1"/>
<circle cx="139.2" cy="775" r="4.1"/>
<circle cx="130" cy="785.6" r="4.1"/>
<circle cx="139.2" cy="808.7" r="4.1"/>
<circle cx="121.1" cy="814.5" r="4.1"/>
<path d="M158.65 872.6V747.6H181.15V872.6" fill="none" stroke="#135f84" stroke-width="3"/>
<path d="M169.9 742.7V750.5M163.25 742.7H176.55M163.25 750.5H176.55" stroke="#135f84" stroke-width="2.2" fill="none"/>
<circle cx="169.9" cy="735.6" r="4.1"/>
<circle cx="161.1" cy="740.7" r="4.1"/>
<circle cx="178.9" cy="743.1" r="4.1"/>
<circle cx="178.9" cy="752.5" r="4.1"/>
<circle cx="161.1" cy="759.7" r="4.1"/>
<path d="M198.85 872.6V798.5H221.35V872.6" fill="none" stroke="#1a9884" stroke-width="3"/>
<path d="M210.1 794V800.8M203.45 794H216.75M203.45 800.8H216.75" stroke="#1a9884" stroke-width="2.2" fill="none"/>
<circle cx="210.2" cy="784.6" r="4.1"/>
<circle cx="210.2" cy="793" r="4.1"/>
<circle cx="210.2" cy="801.4" r="4.1"/>
<circle cx="219.1" cy="803.4" r="4.1"/>
<circle cx="200.8" cy="807.3" r="4.1"/>
<path d="M238.75 872.6V777H261.25V872.6" fill="none" stroke="#0f5460" stroke-width="3"/>
<path d="M250 773.4V783.8M243.35 773.4H256.65M243.35 783.8H256.65" stroke="#0f5460" stroke-width="2.2" fill="none"/>
<circle cx="249.8" cy="759.3" r="4.1"/>
<circle cx="241.1" cy="777" r="4.1"/>
<circle cx="259.2" cy="780.9" r="4.1"/>
<circle cx="249.8" cy="783.2" r="4.1"/>
<circle cx="249.8" cy="791" r="4.1"/>
<path d="M278.65 872.6V840H301.15V872.6" fill="none" stroke="#e26a45" stroke-width="3"/>
<path d="M289.9 832.8V845.9M283.25 832.8H296.55M283.25 845.9H296.55" stroke="#e26a45" stroke-width="2.2" fill="none"/>
<circle cx="281.1" cy="822.4" r="4.1"/>
<circle cx="289.9" cy="829.8" r="4.1"/>
<circle cx="298.9" cy="838.6" r="4.1"/>
<circle cx="289.9" cy="841.6" r="4.1"/>
<circle cx="289.9" cy="862.5" r="4.1"/>
<path d="M318.75 872.6V831.2H341.25V872.6" fill="none" stroke="#a60a0e" stroke-width="3"/>
<path d="M330 825.9V834.7M323.35 825.9H336.65M323.35 834.7H336.65" stroke="#111" stroke-width="2.2" fill="none"/>
<circle cx="320.8" cy="818.9" r="4.1"/>
<circle cx="338.9" cy="823.8" r="4.1"/>
<circle cx="330" cy="829.8" r="4.1"/>
<circle cx="320.8" cy="842" r="4.1"/>
<circle cx="338.9" cy="838.6" r="4.1"/>
<path d="M94.3 641.4H103.6V872.6H357.2" fill="none" stroke="#000" stroke-width="2.5"/>
<path d="M94.3 872.1H103.6M94.3 795.2H103.6M94.3 718.3H103.6M94.3 641.4H103.6M130 872.6V880.6M169.9 872.6V880.6M210.1 872.6V880.6M250 872.6V880.6M289.9 872.6V880.6M330 872.6V880.6" stroke="#000" stroke-width="2.2" fill="none"/>
<text x="68.41" y="877.34" font-size="16" font-weight="bold">400</text>
<text x="68.41" y="800.44" font-size="16" font-weight="bold">600</text>
<text x="68.41" y="723.54" font-size="16" font-weight="bold">800</text>
<text x="60.41" y="646.64" font-size="16" font-weight="bold">1000</text>
<text transform="translate(135.8,894) rotate(-45)" font-size="16" font-weight="bold" text-anchor="end">M10</text>
<text transform="translate(175.7,894) rotate(-45)" font-size="16" font-weight="bold" text-anchor="end">M20</text>
<text transform="translate(215.9,894) rotate(-45)" font-size="16" font-weight="bold" text-anchor="end">T10</text>
<text transform="translate(255.8,894) rotate(-45)" font-size="16" font-weight="bold" text-anchor="end">T20</text>
<text transform="translate(295.7,894) rotate(-45)" font-size="16" font-weight="bold" text-anchor="end">B10</text>
<text transform="translate(335.8,894) rotate(-45)" font-size="16" font-weight="bold" text-anchor="end">B20</text>
<path d="M169 660.8V654.7H323.4V660.8M246.9 654.7V660.8" fill="none" stroke="#000" stroke-width="2.8"/>
<text x="241.38" y="650.1" font-size="36">c</text>
<path d="M136.5 683.2V677.6H291.4V683.2M215.2 677.6V683.2" fill="none" stroke="#000" stroke-width="2.8"/>
<text x="208.98" y="674.5" font-size="36">c</text>
<path d="M167.8 714.5V708.4H250.5V714.5" fill="none" stroke="#000" stroke-width="2.8"/>
<text x="205.39" y="704.2" font-size="36">b</text>
<path d="M128.6 731.2V724.8H167.2V731.2" fill="none" stroke="#000" stroke-width="2.8"/>
<text x="141.02" y="719.4" font-size="36">a</text>
<path d="M212.4 751.1V744.6H250.5V751.1" fill="none" stroke="#000" stroke-width="2.8"/>
<text x="221.52" y="739.2" font-size="36">a</text>
<text x="3.49" y="664.9" font-size="49">G</text>
<text transform="translate(50,805.35) rotate(-90)" font-size="36">TNF-α</text>
<text transform="translate(66.3,777.8) rotate(-90)" font-size="20" font-weight="bold">Pg/ml</text>
<path d="M492.5 867.7V748.5H516.3V867.7" fill="none" stroke="#179ec2" stroke-width="3"/>
<path d="M504.4 735.5V758.7M497.75 735.5H511.05M497.75 758.7H511.05" stroke="#179ec2" stroke-width="2.2" fill="none"/>
<circle cx="504.1" cy="716.9" r="4.3"/>
<circle cx="513.8" cy="733.8" r="4.3"/>
<circle cx="504.1" cy="738.2" r="4.3"/>
<circle cx="513.8" cy="773.3" r="4.3"/>
<circle cx="494.8" cy="774.8" r="4.3"/>
<path d="M533.6 867.7V743.3H557.4V867.7" fill="none" stroke="#135f84" stroke-width="3"/>
<path d="M545.5 731.4V752.4M538.85 731.4H552.15M538.85 752.4H552.15" stroke="#135f84" stroke-width="2.2" fill="none"/>
<circle cx="545.5" cy="703.4" r="4.3"/>
<circle cx="536.2" cy="739" r="4.3"/>
<circle cx="545.5" cy="745.8" r="4.3"/>
<circle cx="554.8" cy="758.9" r="4.3"/>
<circle cx="536.2" cy="763.4" r="4.3"/>
<path d="M575.2 867.7V738.6H599V867.7" fill="none" stroke="#1a9884" stroke-width="3"/>
<path d="M587.1 726.6V748.9M580.45 726.6H593.75M580.45 748.9H593.75" stroke="#1a9884" stroke-width="2.2" fill="none"/>
<circle cx="586.8" cy="711.7" r="4.3"/>
<circle cx="596.1" cy="709.6" r="4.3"/>
<circle cx="586.8" cy="752" r="4.3"/>
<circle cx="596.1" cy="754.5" r="4.3"/>
<circle cx="577.5" cy="759.7" r="4.3"/>
<path d="M616.2 867.7V786.2H640V867.7" fill="none" stroke="#0f5460" stroke-width="3"/>
<path d="M628.1 776.4V793.4M621.45 776.4H634.75M621.45 793.4H634.75" stroke="#0f5460" stroke-width="2.2" fill="none"/>
<circle cx="628.3" cy="760.3" r="4.3"/>
<circle cx="619" cy="776.8" r="4.3"/>
<circle cx="637.8" cy="784.5" r="4.3"/>
<circle cx="628.3" cy="791.3" r="4.3"/>
<circle cx="628.3" cy="812.6" r="4.3"/>
<path d="M657.7 867.7V836.2H681.5V867.7" fill="none" stroke="#e26a45" stroke-width="3"/>
<path d="M669.6 828.1V842.4M662.95 828.1H676.25M662.95 842.4H676.25" stroke="#e26a45" stroke-width="2.2" fill="none"/>
<circle cx="669.7" cy="811.6" r="4.3"/>
<circle cx="669.7" cy="826.9" r="4.3"/>
<circle cx="669.7" cy="842" r="4.3"/>
<circle cx="660" cy="848.2" r="4.3"/>
<circle cx="679.2" cy="847.6" r="4.3"/>
<path d="M699.1 867.7V827.5H722.9V867.7" fill="none" stroke="#a60a0e" stroke-width="3"/>
<path d="M711 820.3V832.7M704.35 820.3H717.65M704.35 832.7H717.65" stroke="#111" stroke-width="2.2" fill="none"/>
<circle cx="711" cy="811.6" r="4.3"/>
<circle cx="701.3" cy="817.2" r="4.3"/>
<circle cx="711" cy="821.7" r="4.3"/>
<circle cx="720.6" cy="838.3" r="4.3"/>
<circle cx="701.3" cy="843.4" r="4.3"/>
<path d="M467.7 630H477V867.7H739" fill="none" stroke="#000" stroke-width="2.5"/>
<path d="M467.7 867.2H477M467.7 807.9H477M467.7 748.6H477M467.7 689.3H477M467.7 630H477M504.4 867.7V875.7M545.5 867.7V875.7M587.1 867.7V875.7M628.1 867.7V875.7M669.6 867.7V875.7M711 867.7V875.7" stroke="#000" stroke-width="2.2" fill="none"/>
<text x="441.81" y="872.44" font-size="16" font-weight="bold">200</text>
<text x="441.81" y="813.14" font-size="16" font-weight="bold">250</text>
<text x="441.81" y="753.84" font-size="16" font-weight="bold">300</text>
<text x="441.81" y="694.54" font-size="16" font-weight="bold">350</text>
<text x="441.81" y="635.24" font-size="16" font-weight="bold">400</text>
<text transform="translate(510.2,889.1) rotate(-45)" font-size="16" font-weight="bold" text-anchor="end">M10</text>
<text transform="translate(551.3,889.1) rotate(-45)" font-size="16" font-weight="bold" text-anchor="end">M20</text>
<text transform="translate(592.9,889.1) rotate(-45)" font-size="16" font-weight="bold" text-anchor="end">T10</text>
<text transform="translate(633.9,889.1) rotate(-45)" font-size="16" font-weight="bold" text-anchor="end">T20</text>
<text transform="translate(675.4,889.1) rotate(-45)" font-size="16" font-weight="bold" text-anchor="end">B10</text>
<text transform="translate(716.8,889.1) rotate(-45)" font-size="16" font-weight="bold" text-anchor="end">B20</text>
<path d="M547.8 635.3V629.4H702.4V635.3M626.4 629.4V635.3" fill="none" stroke="#000" stroke-width="2.8"/>
<text x="620.88" y="625.5" font-size="36">c</text>
<path d="M505.4 657.1V651.1H660.4V657.1M584.1 651.1V657.1" fill="none" stroke="#000" stroke-width="2.8"/>
<text x="577.38" y="648.3" font-size="36">c</text>
<path d="M544.3 690.3V684.3H627V690.3" fill="none" stroke="#000" stroke-width="2.8"/>
<text x="574.59" y="680.6" font-size="36">b</text>
<path d="M587.3 711.3V704.6H625.4V711.3" fill="none" stroke="#000" stroke-width="2.8"/>
<text x="602.12" y="703.2" font-size="36">a</text>
<text x="400.39" y="663.4" font-size="49">H</text>
<text transform="translate(417.6,814.56) rotate(-90)" font-size="36">VEGF</text>
<text transform="translate(436.5,788) rotate(-90)" font-size="20" font-weight="bold">Pg/ml</text>
<path d="M893.35 872.9V768.5H918.65V872.9" fill="none" stroke="#179ec2" stroke-width="3"/>
<path d="M906 761.1V774.4M899.35 761.1H912.65M899.35 774.4H912.65" stroke="#179ec2" stroke-width="2.2" fill="none"/>
<circle cx="898" cy="747.4" r="5.8"/>
<circle cx="906.2" cy="757.2" r="5.8"/>
<circle cx="906.2" cy="774" r="5.8"/>
<circle cx="898" cy="780.3" r="5.8"/>
<circle cx="914.4" cy="779.3" r="5.8"/>
<path d="M935.65 872.9V747.6H960.95V872.9" fill="none" stroke="#135f84" stroke-width="3"/>
<path d="M948.3 734.3V759.1M941.65 734.3H954.95M941.65 759.1H954.95" stroke="#135f84" stroke-width="2.2" fill="none"/>
<circle cx="948.3" cy="716.1" r="5.8"/>
<circle cx="956.2" cy="730.9" r="5.8"/>
<circle cx="947.9" cy="735.2" r="5.8"/>
<circle cx="948.3" cy="767.6" r="5.8"/>
<circle cx="948.3" cy="784.6" r="5.8"/>
<path d="M978.05 872.9V758.7H1003.35V872.9" fill="none" stroke="#1a9884" stroke-width="3"/>
<path d="M990.7 755V761M984.05 755H997.35M984.05 761H997.35" stroke="#1a9884" stroke-width="2.2" fill="none"/>
<circle cx="982.6" cy="754.4" r="5.8"/>
<circle cx="990.4" cy="758.4" r="5.8"/>
<circle cx="998.8" cy="749" r="5.8"/>
<circle cx="998.8" cy="763" r="5.8"/>
<circle cx="982.6" cy="767.6" r="5.8"/>
<path d="M1019.95 872.9V756.8H1045.25V872.9" fill="none" stroke="#0f5460" stroke-width="3"/>
<path d="M1032.6 750V757.8M1025.95 750H1039.25M1025.95 757.8H1039.25" stroke="#0f5460" stroke-width="2.2" fill="none"/>
<circle cx="1032.8" cy="735.9" r="5.8"/>
<circle cx="1024.2" cy="753.9" r="5.8"/>
<circle cx="1041.3" cy="755.8" r="5.8"/>
<circle cx="1032.8" cy="763.1" r="5.8"/>
<circle cx="1032.8" cy="776.8" r="5.8"/>
<path d="M1062.15 872.9V815.2H1087.45V872.9" fill="none" stroke="#e26a45" stroke-width="3"/>
<path d="M1074.8 808.4V820.5M1068.15 808.4H1081.45M1068.15 820.5H1081.45" stroke="#e26a45" stroke-width="2.2" fill="none"/>
<circle cx="1074.6" cy="799" r="5.8"/>
<circle cx="1066.3" cy="807.4" r="5.8"/>
<circle cx="1074.6" cy="816.6" r="5.8"/>
<circle cx="1083.4" cy="815.2" r="5.8"/>
<circle cx="1074.6" cy="834.2" r="5.8"/>
<path d="M1104.35 872.9V799H1129.65V872.9" fill="none" stroke="#a60a0e" stroke-width="3"/>
<path d="M1117 790.7V804.8M1110.35 790.7H1123.65M1110.35 804.8H1123.65" stroke="#111" stroke-width="2.2" fill="none"/>
<circle cx="1117.1" cy="776" r="5.8"/>
<circle cx="1108.9" cy="793.1" r="5.8"/>
<circle cx="1125.5" cy="798" r="5.8"/>
<circle cx="1117.1" cy="803.9" r="5.8"/>
<circle cx="1117.1" cy="817.6" r="5.8"/>
<path d="M870 631.9H878.2V872.9H1146" fill="none" stroke="#000" stroke-width="2.4"/>
<path d="M870 872.3H878.2M870 824.22H878.2M870 776.14H878.2M870 728.06H878.2M870 679.98H878.2M870 631.9H878.2M906 872.9V880.9M948.3 872.9V880.9M990.7 872.9V880.9M1032.6 872.9V880.9M1074.8 872.9V880.9M1117 872.9V880.9" stroke="#000" stroke-width="2.2" fill="none"/>
<text x="860.66" y="877.15" font-size="14.8" font-weight="bold">0</text>
<text x="845.86" y="829.07" font-size="14.8" font-weight="bold">100</text>
<text x="845.86" y="780.99" font-size="14.8" font-weight="bold">200</text>
<text x="845.86" y="732.91" font-size="14.8" font-weight="bold">300</text>
<text x="845.86" y="684.83" font-size="14.8" font-weight="bold">400</text>
<text x="845.86" y="636.75" font-size="14.8" font-weight="bold">500</text>
<text transform="translate(911.3,892.3) rotate(-45)" font-size="14.3" font-weight="bold" text-anchor="end">M10</text>
<text transform="translate(953.6,892.3) rotate(-45)" font-size="14.3" font-weight="bold" text-anchor="end">M20</text>
<text transform="translate(996,892.3) rotate(-45)" font-size="14.3" font-weight="bold" text-anchor="end">T10</text>
<text transform="translate(1037.9,892.3) rotate(-45)" font-size="14.3" font-weight="bold" text-anchor="end">T20</text>
<text transform="translate(1080.1,892.3) rotate(-45)" font-size="14.3" font-weight="bold" text-anchor="end">B10</text>
<text transform="translate(1122.3,892.3) rotate(-45)" font-size="14.3" font-weight="bold" text-anchor="end">B20</text>
<path d="M946.8 672.3V663.7H1114V672.3M1031.6 663.7V672.3" fill="none" stroke="#000" stroke-width="2.8"/>
<text x="1021.38" y="658.1" font-size="36">c</text>
<path d="M903.5 706.4V698.2H1076.2V706.4M991.2 698.2V706.4" fill="none" stroke="#000" stroke-width="2.8"/>
<text x="981.88" y="693.7" font-size="36">c</text>
<text x="782.73" y="663.6" font-size="49">I</text>
<text transform="translate(817.3,778.88) rotate(-90)" font-size="36">AST</text>
<text transform="translate(838.3,758.8) rotate(-90)" font-size="20" font-weight="bold">U/L</text>
<path d="M1276.85 874.5V792H1302.15V874.5" fill="none" stroke="#179ec2" stroke-width="3"/>
<path d="M1289.5 780.9V801.8M1282.85 780.9H1296.15M1282.85 801.8H1296.15" stroke="#179ec2" stroke-width="2.2" fill="none"/>
<circle cx="1289.7" cy="751.5" r="5.8"/>
<circle cx="1281" cy="791.6" r="5.8"/>
<circle cx="1297.7" cy="798.5" r="5.8"/>
<circle cx="1289.7" cy="803.8" r="5.8"/>
<circle cx="1289.7" cy="814.5" r="5.8"/>
<path d="M1319.35 874.5V770.5H1344.65V874.5" fill="none" stroke="#135f84" stroke-width="3"/>
<path d="M1332 761.7V778.3M1325.35 761.7H1338.65M1325.35 778.3H1338.65" stroke="#135f84" stroke-width="2.2" fill="none"/>
<circle cx="1331.8" cy="735.6" r="5.8"/>
<circle cx="1323.5" cy="771.5" r="5.8"/>
<circle cx="1331.8" cy="778.3" r="5.8"/>
<circle cx="1340.2" cy="780.3" r="5.8"/>
<circle cx="1323.5" cy="784.6" r="5.8"/>
<path d="M1361.45 874.5V792.4H1386.75V874.5" fill="none" stroke="#1a9884" stroke-width="3"/>
<path d="M1374.1 782.6V801.4M1367.45 782.6H1380.75M1367.45 801.4H1380.75" stroke="#1a9884" stroke-width="2.2" fill="none"/>
<circle cx="1373.9" cy="764.2" r="5.8"/>
<circle cx="1373.9" cy="777.3" r="5.8"/>
<circle cx="1382.3" cy="798.9" r="5.8"/>
<circle cx="1373.9" cy="803.4" r="5.8"/>
<circle cx="1373.9" cy="817.1" r="5.8"/>
<path d="M1403.65 874.5V772.5H1428.95V874.5" fill="none" stroke="#0f5460" stroke-width="3"/>
<path d="M1416.3 764.1V779.4M1409.65 764.1H1422.95M1409.65 779.4H1422.95" stroke="#0f5460" stroke-width="2.2" fill="none"/>
<circle cx="1416.1" cy="748" r="5.8"/>
<circle cx="1408" cy="766" r="5.8"/>
<circle cx="1424.7" cy="773.9" r="5.8"/>
<circle cx="1416.1" cy="775.4" r="5.8"/>
<circle cx="1416.1" cy="796" r="5.8"/>
<path d="M1445.75 874.5V800.9H1471.05V874.5" fill="none" stroke="#e26a45" stroke-width="3"/>
<path d="M1458.4 795.4V805.8M1451.75 795.4H1465.05M1451.75 805.8H1465.05" stroke="#e26a45" stroke-width="2.2" fill="none"/>
<circle cx="1458.6" cy="780.3" r="5.8"/>
<circle cx="1449.8" cy="799.5" r="5.8"/>
<circle cx="1458.6" cy="802.9" r="5.8"/>
<circle cx="1466.4" cy="807.8" r="5.8"/>
<circle cx="1449.8" cy="810.7" r="5.8"/>
<path d="M1487.75 874.5V801.5H1513.05V874.5" fill="none" stroke="#a60a0e" stroke-width="3"/>
<path d="M1500.4 795.4V806.8M1493.75 795.4H1507.05M1493.75 806.8H1507.05" stroke="#111" stroke-width="2.2" fill="none"/>
<circle cx="1497.8" cy="780.3" r="5.8"/>
<circle cx="1497.8" cy="800.9" r="5.8"/>
<circle cx="1509.5" cy="803.5" r="5.8"/>
<circle cx="1503.3" cy="807.8" r="5.8"/>
<circle cx="1491.9" cy="810.7" r="5.8"/>
<path d="M1253.2 634.7H1261.4V874.5H1529" fill="none" stroke="#000" stroke-width="2.4"/>
<path d="M1253.2 874H1261.4M1253.2 826.14H1261.4M1253.2 778.28H1261.4M1253.2 730.42H1261.4M1253.2 682.56H1261.4M1253.2 634.7H1261.4M1289.5 874.5V882.5M1332 874.5V882.5M1374.1 874.5V882.5M1416.3 874.5V882.5M1458.4 874.5V882.5M1500.4 874.5V882.5" stroke="#000" stroke-width="2.2" fill="none"/>
<text x="1243.86" y="878.85" font-size="14.8" font-weight="bold">0</text>
<text x="1229.06" y="830.99" font-size="14.8" font-weight="bold">100</text>
<text x="1229.06" y="783.13" font-size="14.8" font-weight="bold">200</text>
<text x="1229.06" y="735.27" font-size="14.8" font-weight="bold">300</text>
<text x="1229.06" y="687.41" font-size="14.8" font-weight="bold">400</text>
<text x="1229.06" y="639.55" font-size="14.8" font-weight="bold">500</text>
<text transform="translate(1294.8,893.9) rotate(-45)" font-size="14.3" font-weight="bold" text-anchor="end">M10</text>
<text transform="translate(1337.3,893.9) rotate(-45)" font-size="14.3" font-weight="bold" text-anchor="end">M20</text>
<text transform="translate(1379.4,893.9) rotate(-45)" font-size="14.3" font-weight="bold" text-anchor="end">T10</text>
<text transform="translate(1421.6,893.9) rotate(-45)" font-size="14.3" font-weight="bold" text-anchor="end">T20</text>
<text transform="translate(1463.7,893.9) rotate(-45)" font-size="14.3" font-weight="bold" text-anchor="end">B10</text>
<text transform="translate(1505.7,893.9) rotate(-45)" font-size="14.3" font-weight="bold" text-anchor="end">B20</text>
<path d="M1324.6 713.6V705H1492V713.6M1410 705V713.6" fill="none" stroke="#000" stroke-width="2.8"/>
<text x="1402.88" y="699.5" font-size="36">c</text>
<text x="1192.67" y="663.3" font-size="49">J</text>
<text transform="translate(1196,756.7) rotate(-90)" font-size="35">AL<tspan dx="-2.4">T</tspan></text>
<text transform="translate(1222.9,738.07) rotate(-90)" font-size="19" font-weight="bold">U/L</text>
</svg>
</body></html>
